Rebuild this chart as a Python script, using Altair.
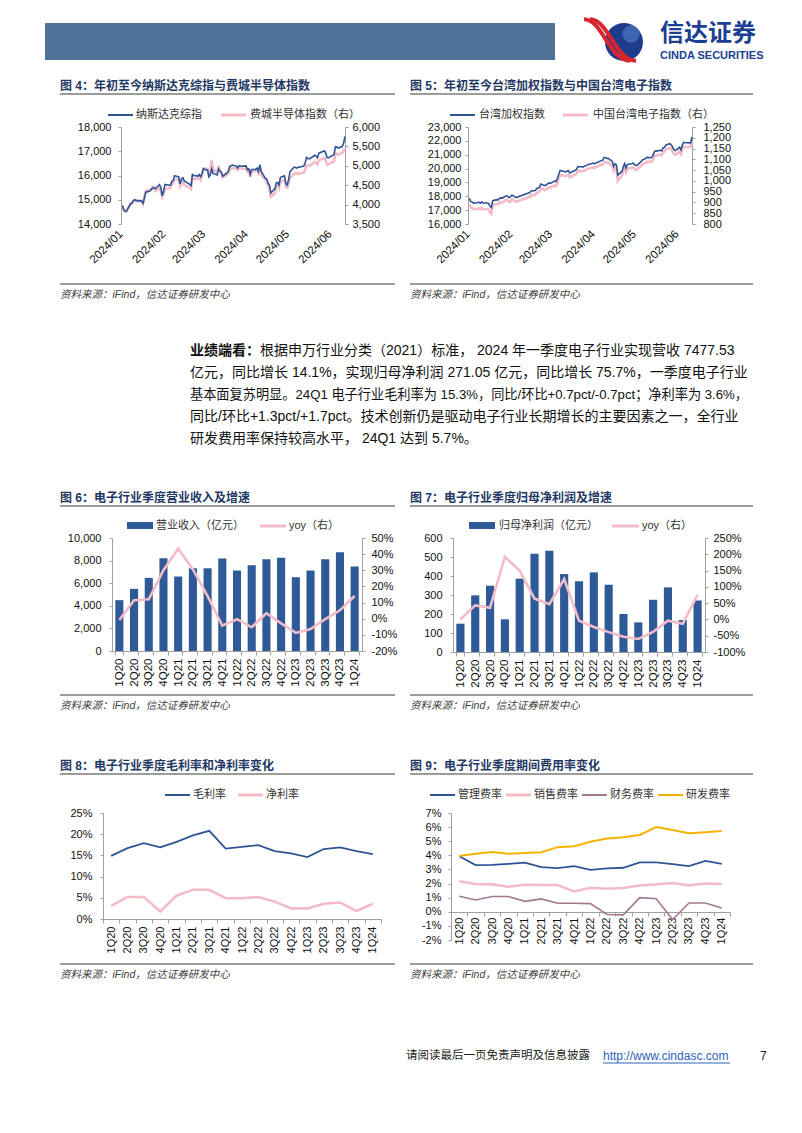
import altair as alt
import pandas as pd

CJK = "Noto Sans CJK SC"
LAT = "Liberation Sans"
MIX = "Liberation Sans, Noto Sans CJK SC"
BLUE = "#2f5496"
PINK = "#f3bcc8"
BAR = "#2e5a98"
MAUVE = "#a27890"
GOLD = "#f5b301"
TITLE_C = "#1f3864"
AX = "#a0a0a0"
TXT = "#111111"
LEG = "#333333"
RULE_C = "#3a3a3a"

# ---------------- data ----------------
nasdaq_dates = [
    "2024-01-02", "2024-01-03", "2024-01-04", "2024-01-05", "2024-01-08", "2024-01-09", "2024-01-10",
    "2024-01-11", "2024-01-12", "2024-01-16", "2024-01-17", "2024-01-18", "2024-01-19", "2024-01-22",
    "2024-01-23", "2024-01-24", "2024-01-25", "2024-01-26", "2024-01-29", "2024-01-30", "2024-01-31",
    "2024-02-01", "2024-02-02", "2024-02-05", "2024-02-06", "2024-02-07", "2024-02-08", "2024-02-09",
    "2024-02-12", "2024-02-13", "2024-02-14", "2024-02-15", "2024-02-16", "2024-02-20", "2024-02-21",
    "2024-02-22", "2024-02-23", "2024-02-26", "2024-02-27", "2024-02-28", "2024-02-29",
    "2024-03-01", "2024-03-04", "2024-03-05", "2024-03-06", "2024-03-07", "2024-03-08", "2024-03-11",
    "2024-03-12", "2024-03-13", "2024-03-14", "2024-03-15", "2024-03-18", "2024-03-19", "2024-03-20",
    "2024-03-21", "2024-03-22", "2024-03-25", "2024-03-26", "2024-03-27", "2024-03-28",
    "2024-04-01", "2024-04-02", "2024-04-03", "2024-04-04", "2024-04-05", "2024-04-08", "2024-04-09",
    "2024-04-10", "2024-04-11", "2024-04-12", "2024-04-15", "2024-04-16", "2024-04-17", "2024-04-18",
    "2024-04-19", "2024-04-22", "2024-04-23", "2024-04-24", "2024-04-25", "2024-04-26", "2024-04-29",
    "2024-04-30",
    "2024-05-01", "2024-05-02", "2024-05-03", "2024-05-06", "2024-05-07", "2024-05-08", "2024-05-09",
    "2024-05-10", "2024-05-13", "2024-05-14", "2024-05-15", "2024-05-16", "2024-05-17", "2024-05-20",
    "2024-05-21", "2024-05-22", "2024-05-23", "2024-05-24", "2024-05-28", "2024-05-29", "2024-05-30",
    "2024-05-31",
    "2024-06-03", "2024-06-04", "2024-06-05", "2024-06-06", "2024-06-07", "2024-06-10", "2024-06-11",
    "2024-06-12",
]
nasdaq_values = [
    14766, 14592, 14510, 14524, 14844, 14858, 14970, 15003, 14973, 14944, 14856, 15056, 15311, 15360,
    15426, 15482, 15511, 15455, 15628, 15510, 15164,
    15362, 15629, 15598, 15609, 15757, 15794, 15991, 15943, 15656, 15859, 15906, 15776, 15631, 15581,
    16042, 15997, 15976, 16035, 15948, 16092,
    16275, 16208, 15940, 16032, 16273, 16085, 16019, 16266, 16178, 16129, 15973, 16103, 16167, 16369,
    16402, 16429, 16384, 16316, 16400, 16379,
    16397, 16240, 16277, 16049, 16249, 16254, 16307, 16170, 16442, 16175, 15885, 15865, 15683, 15602,
    15282, 15451, 15697, 15713, 15612, 15928, 15983, 15658,
    15605, 15841, 16156, 16349, 16333, 16303, 16346, 16341, 16388, 16511, 16742, 16698, 16686, 16795,
    16833, 16802, 16736, 16921, 17020, 16921, 16737, 16735,
    16829, 16857, 17188, 17173, 17133, 17193, 17344, 17608,
]
sox_values = [
    3960, 3860, 3830, 3850, 4010, 4020, 4080, 4110, 4080, 4100, 4020, 4190, 4360, 4370,
    4380, 4450, 4420, 4350, 4430, 4360, 4200,
    4290, 4400, 4420, 4440, 4520, 4560, 4640, 4650, 4480, 4560, 4590, 4500, 4440, 4400,
    4700, 4660, 4670, 4690, 4640, 4760,
    4930, 4920, 4760, 4880, 5150, 4910, 4830, 5000, 4880, 4830, 4700, 4770, 4790, 4860,
    4950, 4940, 4930, 4890, 4930, 4930,
    4920, 4850, 4880, 4720, 4840, 4870, 4890, 4810, 4940, 4770, 4640, 4620, 4490, 4420,
    4200, 4290, 4460, 4500, 4430, 4600, 4640, 4450,
    4430, 4560, 4680, 4800, 4810, 4790, 4820, 4800, 4820, 4900, 5020, 5010, 5000, 5070,
    5100, 5090, 5040, 5140, 5200, 5130, 5030, 5040,
    5100, 5110, 5330, 5310, 5290, 5330, 5380, 5460,
]

taiex_dates = [
    "2024-01-02", "2024-01-03", "2024-01-04", "2024-01-05", "2024-01-08", "2024-01-09", "2024-01-10",
    "2024-01-11", "2024-01-12", "2024-01-15", "2024-01-16", "2024-01-17", "2024-01-18", "2024-01-19",
    "2024-01-22", "2024-01-23", "2024-01-24", "2024-01-25", "2024-01-26", "2024-01-29", "2024-01-30",
    "2024-01-31",
    "2024-02-01", "2024-02-02", "2024-02-05", "2024-02-15", "2024-02-16", "2024-02-19", "2024-02-20",
    "2024-02-21", "2024-02-22", "2024-02-23", "2024-02-26", "2024-02-27", "2024-02-29",
    "2024-03-01", "2024-03-04", "2024-03-05", "2024-03-06", "2024-03-07", "2024-03-08", "2024-03-11",
    "2024-03-12", "2024-03-13", "2024-03-14", "2024-03-15", "2024-03-18", "2024-03-19", "2024-03-20",
    "2024-03-21", "2024-03-22", "2024-03-25", "2024-03-26", "2024-03-27", "2024-03-28", "2024-03-29",
    "2024-04-01", "2024-04-02", "2024-04-03", "2024-04-08", "2024-04-09", "2024-04-10", "2024-04-11",
    "2024-04-12", "2024-04-15", "2024-04-16", "2024-04-17", "2024-04-18", "2024-04-19", "2024-04-22",
    "2024-04-23", "2024-04-24", "2024-04-25", "2024-04-26", "2024-04-29", "2024-04-30",
    "2024-05-02", "2024-05-03", "2024-05-06", "2024-05-07", "2024-05-08", "2024-05-09", "2024-05-10",
    "2024-05-13", "2024-05-14", "2024-05-15", "2024-05-16", "2024-05-17", "2024-05-20", "2024-05-21",
    "2024-05-22", "2024-05-23", "2024-05-24", "2024-05-27", "2024-05-28", "2024-05-29", "2024-05-30",
    "2024-05-31",
    "2024-06-03", "2024-06-04", "2024-06-05", "2024-06-06", "2024-06-07", "2024-06-11", "2024-06-12",
]
taiex_values = [
    17853, 17624, 17595, 17502, 17527, 17576, 17506, 17601, 17514, 17513, 17483, 17285, 17178, 17682,
    17758, 17737, 17862, 17887, 17873, 18050, 17990, 17890,
    17965, 18082, 17906, 18275, 18378, 18418, 18565, 18597, 18655, 18889, 18768, 18835, 18966,
    18935, 19101, 19052, 19249, 19581, 19860, 19789, 19763, 19812, 19863, 19682, 19830, 19874, 19950,
    20157, 20126, 20119, 20190, 20205, 20294, 20294,
    20397, 20341, 20410, 20606, 20796, 20796, 20730, 20741, 20520, 20159, 20345, 20260, 19527, 19792,
    20138, 20359, 20041, 20303, 20354, 20396,
    20231, 20222, 20522, 20627, 20664, 20705, 20809, 20784, 20838, 21061, 21258, 21259, 21319, 21268,
    21512, 21536, 21700, 21790, 21700, 21520, 21350, 21300,
    21536, 21356, 21715, 21902, 21859, 21858, 22290,
]
twelec_values = [
    891, 876, 875, 869, 870, 873, 869, 875, 869, 869, 867, 855, 848, 888,
    893, 892, 900, 901, 900, 912, 908, 902,
    906, 914, 903, 926, 933, 935, 945, 947, 951, 966, 958, 962, 971,
    969, 979, 976, 989, 1010, 1028, 1024, 1022, 1025, 1028, 1017, 1026, 1029, 1034,
    1047, 1045, 1045, 1049, 1050, 1056, 1056,
    1063, 1059, 1064, 1076, 1088, 1088, 1084, 1085, 1071, 1047, 1059, 1054, 1000, 1024,
    1046, 1060, 1040, 1057, 1060, 1063,
    1052, 1051, 1071, 1078, 1080, 1083, 1089, 1088, 1091, 1105, 1118, 1118, 1122, 1119,
    1134, 1136, 1147, 1152, 1147, 1135, 1124, 1121,
    1136, 1124, 1147, 1159, 1157, 1157, 1184,
]

quarters = ["1Q20", "2Q20", "3Q20", "4Q20", "1Q21", "2Q21", "3Q21", "4Q21", "1Q22", "2Q22",
            "3Q22", "4Q22", "1Q23", "2Q23", "3Q23", "4Q23", "1Q24"]
revenue = [4500, 5500, 6470, 8200, 6590, 7320, 7320, 8180, 7120, 7590, 8120, 8260, 6530, 7120,
           8120, 8740, 7478]
revenue_yoy = [-0.8, 11.5, 12.0, 30.0, 43.4, 30.5, 14.0, -4.3, -0.3, -5.3, 3.4, -2.9, -8.8, -6.4,
               -0.3, 5.2, 14.1]
profit = [149, 298, 349, 172, 386, 517, 533, 410, 372, 419, 354, 200, 156, 275, 340, 168, 271]
profit_yoy = [0, 43, 36, 192, 150, 64, 47, 124, -4, -23, -39, -53, -60, -38, -4, -13, 75.7]
gross_margin = [14.9, 16.7, 17.9, 16.9, 18.2, 19.7, 20.8, 16.6, 17.0, 17.4, 16.0, 15.5, 14.6,
                16.5, 16.9, 16.0, 15.3]
net_margin = [3.1, 5.2, 5.2, 1.8, 5.5, 6.9, 6.9, 4.9, 4.9, 5.2, 4.1, 2.5, 2.5, 3.6, 3.9, 1.9, 3.6]
mgmt_rate = [3.93, 3.31, 3.33, 3.40, 3.48, 3.17, 3.09, 3.24, 2.97, 3.07, 3.12, 3.50, 3.50, 3.38,
             3.24, 3.60, 3.40]
sales_rate = [2.16, 1.97, 1.94, 1.77, 1.92, 1.90, 1.90, 1.44, 1.70, 1.63, 1.68, 1.87, 1.94, 2.04,
              1.87, 2.00, 1.97]
fin_rate = [1.10, 0.84, 1.08, 1.08, 0.74, 0.91, 0.60, 0.60, 0.58, -0.19, -0.22, 1.00, 0.92, -0.55,
            0.62, 0.62, 0.27]
rd_rate = [3.96, 4.12, 4.24, 4.12, 4.17, 4.22, 4.58, 4.65, 4.96, 5.20, 5.28, 5.44, 6.00, 5.80,
           5.56, 5.64, 5.73]

para_lines = [
    "根据申万行业分类（2021）标准， 2024 年一季度电子行业实现营收 7477.53",
    "亿元，同比增长 14.1%，实现归母净利润 271.05 亿元，同比增长 75.7%，一季度电子行业",
    "基本面复苏明显。24Q1 电子行业毛利率为 15.3%，同比/环比+0.7pct/-0.7pct；净利率为 3.6%，",
    "同比/环比+1.3pct/+1.7pct。技术创新仍是驱动电子行业长期增长的主要因素之一，全行业",
    "研发费用率保持较高水平， 24Q1 达到 5.7%。",
]
SOURCE = "资料来源：iFind，信达证券研发中心"

# ---------------- helpers ----------------
ONE = pd.DataFrame({"k": [0]})


def txt(o, x, y, s, size=11, font=MIX, color=TXT, weight="normal", style="normal",
        align="left", baseline="middle"):
    return alt.Chart(ONE).mark_text(
        text=s, fontSize=size, font=font, color=color, fontWeight=weight,
        fontStyle=style, align=align, baseline=baseline
    ).encode(x=alt.value(x - o[0]), y=alt.value(y - o[1]))


def hline(o, x1, x2, y, color, w=1.0):
    return alt.Chart(ONE).mark_rule(color=color, strokeWidth=w).encode(
        x=alt.value(x1 - o[0]), x2=alt.value(x2 - o[0]), y=alt.value(y - o[1]))


def box(o, x1, x2, y1, y2, color):
    return alt.Chart(ONE).mark_rect(color=color).encode(
        x=alt.value(x1 - o[0]), x2=alt.value(x2 - o[0]),
        y=alt.value(y1 - o[1]), y2=alt.value(y2 - o[1]))


def frame(o, left, title, ty, sy):
    x1, x2 = (57, 392) if left else (407, 750)
    return [
        txt(o, x1, ty, title, size=12, color=TITLE_C, weight="bold"),
        hline(o, x1, x2, ty + 8, RULE_C, 1),
        hline(o, x1, x2, sy, RULE_C, 1),
        txt(o, x1, sy + 11, SOURCE, size=10.5, color="#404040", style="italic"),
    ]


def leg(o, x, y, s):
    return txt(o, x, y, s, size=11, color=LEG)


def spacer(w, h):
    return alt.Chart(ONE).mark_point(opacity=0).encode(
        x=alt.value(0), y=alt.value(0)).properties(width=w, height=h)


def pct_axis(vals, orient, pad, off=0):
    return alt.Axis(values=vals, labelExpr="datum.value + '%'", orient=orient, title=None,
                    tickSize=3, labelPadding=pad, offset=off)


def num_axis(vals, orient, pad, off=0):
    return alt.Axis(values=vals, format=",.0f", orient=orient, title=None, tickSize=3,
                    labelPadding=pad, offset=off)


def dt(m, d):
    return alt.DateTime(year=2024, month=m, date=d, utc=True)


def date_x(off, w):
    return alt.X("date:T",
                 scale=alt.Scale(type="utc", domain=[dt(1, 1), dt(6, 12)], range=[off, off + w]),
                 axis=alt.Axis(values=[dt(m, 1) for m in range(1, 7)], format="%Y/%m",
                               labelAngle=-45, labelAlign="right", labelBaseline="middle",
                               labelPadding=8, domain=False, ticks=False, title=None,
                               labelFontSize=11.5))


def quarter_x(off, w, pi, po, font=11, offset=0, pad=3):
    return alt.X("q:N", sort=quarters,
                 scale=alt.Scale(type="band", paddingInner=pi, paddingOuter=po,
                                 range=[off, off + w]),
                 axis=alt.Axis(labelAngle=-90, tickBand="extent", title=None, tickSize=4,
                               labelPadding=pad, labelFontSize=font, offset=offset))


# Column origins (page px): left figures start at 100, right figures at 448
LX, RX = 100, 448

# ---------------- Figure 4 ----------------
o4 = (LX, 124)
off4 = 118 - LX
df4 = pd.DataFrame({"date": nasdaq_dates, "nasdaq": nasdaq_values, "sox": sox_values})
f4_pink = alt.Chart(df4).mark_line(color=PINK, strokeWidth=2.6).encode(
    x=date_x(off4, 224),
    y=alt.Y("sox:Q", scale=alt.Scale(domain=[3500, 6000], nice=False, zero=False),
            axis=num_axis(list(range(3500, 6001, 500)), "right", 4)))
f4_blue = alt.Chart(df4).mark_line(color=BLUE, strokeWidth=1.6).encode(
    x=date_x(off4, 224),
    y=alt.Y("nasdaq:Q", scale=alt.Scale(domain=[14000, 18000], nice=False, zero=False),
            axis=num_axis(list(range(14000, 18001, 1000)), "left", 7, -off4)))
f4_decor = frame(o4, True, "图 4：年初至今纳斯达克综指与费城半导体指数", 83, 281) + [
    hline(o4, 105, 130, 112, BLUE, 2), leg(o4, 133, 112, "纳斯达克综指"),
    hline(o4, 218, 243, 112, PINK, 3), leg(o4, 247, 112, "费城半导体指数（右）"),
]
fig4 = alt.layer(f4_pink, f4_blue, *f4_decor).resolve_scale(y="independent").properties(
    width=off4 + 224, height=97)

# ---------------- Figure 5 ----------------
o5 = (RX, 124)
off5 = 465 - RX
df5 = pd.DataFrame({"date": taiex_dates, "taiex": taiex_values, "elec": twelec_values})
f5_pink = alt.Chart(df5).mark_line(color=PINK, strokeWidth=2.6).encode(
    x=date_x(off5, 224),
    y=alt.Y("elec:Q", scale=alt.Scale(domain=[800, 1250], nice=False, zero=False),
            axis=num_axis(list(range(800, 1251, 50)), "right", 8)))
f5_blue = alt.Chart(df5).mark_line(color=BLUE, strokeWidth=1.6).encode(
    x=date_x(off5, 224),
    y=alt.Y("taiex:Q", scale=alt.Scale(domain=[16000, 23000], nice=False, zero=False),
            axis=num_axis(list(range(16000, 23001, 1000)), "left", 4, -off5)))
f5_decor = frame(o5, False, "图 5：年初至今台湾加权指数与中国台湾电子指数", 83, 281) + [
    hline(o5, 447, 472, 112, BLUE, 2), leg(o5, 476, 112, "台湾加权指数"),
    hline(o5, 560, 585, 112, PINK, 3), leg(o5, 590, 112, "中国台湾电子指数（右）"),
]
fig5 = alt.layer(f5_pink, f5_blue, *f5_decor).resolve_scale(y="independent").properties(
    width=off5 + 224, height=97)

# ---------------- Figure 6 ----------------
o6 = (LX, 535)
off6 = 109 - LX
df6 = pd.DataFrame({"q": quarters, "rev": revenue, "yoy": revenue_yoy})
f6_bar = alt.Chart(df6).mark_bar(color=BAR).encode(
    x=quarter_x(off6, 250, 0.45, 0.225, 11.5),
    y=alt.Y("rev:Q", scale=alt.Scale(domain=[0, 10000], nice=False),
            axis=num_axis(list(range(0, 10001, 2000)), "left", 8, -off6)))
f6_line = alt.Chart(df6).mark_line(color=PINK, strokeWidth=2.6).encode(
    x=quarter_x(off6, 250, 0.45, 0.225, 11.5),
    y=alt.Y("yoy:Q", scale=alt.Scale(domain=[-20, 50], nice=False, zero=False),
            axis=pct_axis(list(range(-20, 51, 10)), "right", 6)))
f6_decor = frame(o6, True, "图 6：电子行业季度营业收入及增速", 495, 692) + [
    box(o6, 124, 150, 519, 526, BAR), leg(o6, 153, 523, "营业收入（亿元）"),
    hline(o6, 257, 283, 523, PINK, 3), leg(o6, 286, 523, "yoy（右）"),
]
fig6 = alt.layer(f6_bar, f6_line, *f6_decor).resolve_scale(y="independent").properties(
    width=off6 + 250, height=113)

# ---------------- Figure 7 ----------------
o7 = (RX, 535)
off7 = 450 - RX
df7 = pd.DataFrame({"q": quarters, "np": profit, "yoy": profit_yoy})
f7_bar = alt.Chart(df7).mark_bar(color=BAR).encode(
    x=quarter_x(off7, 252, 0.45, 0.225, 11.5),
    y=alt.Y("np:Q", scale=alt.Scale(domain=[0, 600], nice=False),
            axis=num_axis(list(range(0, 601, 100)), "left", 8, -off7)))
f7_line = alt.Chart(df7).mark_line(color=PINK, strokeWidth=2.6).encode(
    x=quarter_x(off7, 252, 0.45, 0.225, 11.5),
    y=alt.Y("yoy:Q", scale=alt.Scale(domain=[-100, 250], nice=False, zero=False),
            axis=pct_axis(list(range(-100, 251, 50)), "right", 5)))
f7_decor = frame(o7, False, "图 7：电子行业季度归母净利润及增速", 495, 692) + [
    box(o7, 466, 492, 519, 526, BAR), leg(o7, 496, 523, "归母净利润（亿元）"),
    hline(o7, 609, 636, 523, PINK, 3), leg(o7, 639, 523, "yoy（右）"),
]
fig7 = alt.layer(f7_bar, f7_line, *f7_decor).resolve_scale(y="independent").properties(
    width=off7 + 252, height=114)

# ---------------- Figure 8 ----------------
o8 = (LX, 810)
df8 = pd.DataFrame({"q": quarters, "gm": gross_margin, "nm": net_margin})
y8 = dict(scale=alt.Scale(domain=[0, 25], nice=False),
          axis=pct_axis(list(range(0, 26, 5)), "left", 8))
x8 = quarter_x(0, 278, 0, 0, 11)
f8_nm = alt.Chart(df8).mark_line(color=PINK, strokeWidth=2.6).encode(x=x8, y=alt.Y("nm:Q", **y8))
f8_gm = alt.Chart(df8).mark_line(color=BLUE, strokeWidth=1.8).encode(x=x8, y=alt.Y("gm:Q", **y8))
f8_decor = frame(o8, True, "图 8：电子行业季度毛利率和净利率变化", 763, 961) + [
    hline(o8, 162, 187, 792, BLUE, 2), leg(o8, 190, 792, "毛利率"),
    hline(o8, 235, 260, 792, PINK, 3), leg(o8, 263, 792, "净利率"),
]
fig8 = alt.layer(f8_nm, f8_gm, *f8_decor).properties(width=278, height=106)

# ---------------- Figure 9 ----------------
o9 = (RX, 810)
df9 = pd.DataFrame({"q": quarters, "mg": mgmt_rate, "sa": sales_rate, "fi": fin_rate,
                    "rd": rd_rate})
y9 = dict(scale=alt.Scale(domain=[-2, 7], nice=False, zero=False),
          axis=pct_axis(list(range(-2, 8, 1)), "left", 7))
x9 = quarter_x(0, 279, 0, 0, 11, offset=-28, pad=1)
f9_layers = [
    alt.Chart(df9).mark_line(color=PINK, strokeWidth=2.6).encode(x=x9, y=alt.Y("sa:Q", **y9)),
    alt.Chart(df9).mark_line(color=MAUVE, strokeWidth=1.6).encode(x=x9, y=alt.Y("fi:Q", **y9)),
    alt.Chart(df9).mark_line(color=BLUE, strokeWidth=1.8).encode(x=x9, y=alt.Y("mg:Q", **y9)),
    alt.Chart(df9).mark_line(color=GOLD, strokeWidth=2.0).encode(x=x9, y=alt.Y("rd:Q", **y9)),
]
f9_decor = frame(o9, False, "图 9：电子行业季度期间费用率变化", 763, 961) + [
    hline(o9, 427, 452, 792, BLUE, 2), leg(o9, 455, 792, "管理费率"),
    hline(o9, 503, 528, 792, PINK, 3), leg(o9, 531, 792, "销售费率"),
    hline(o9, 579, 604, 792, MAUVE, 2), leg(o9, 607, 792, "财务费率"),
    hline(o9, 655, 680, 792, GOLD, 2), leg(o9, 683, 792, "研发费率"),
]
fig9 = alt.layer(*f9_layers, *f9_decor).properties(width=279, height=127)

# ---------------- header (drawn from the first grid cell) ----------------
C0 = LX - 8  # width of the first column
oh = (8, 8)
header = alt.layer(
    box(oh, 42, 552, 20, 57, "#4e7298"),
    alt.Chart(ONE).mark_point(shape="circle", filled=True, color="#1d3c8c", size=1444,
                              opacity=1).encode(x=alt.value(621 - 8), y=alt.value(39 - 8)),
    alt.Chart(ONE).mark_point(shape="circle", filled=True, color="#5b86cf", size=300,
                              opacity=0.55).encode(x=alt.value(628 - 8), y=alt.value(31 - 8)),
    alt.Chart(ONE).mark_point(shape="M -1 -0.9 C -0.2 -0.9 0.1 0.9 1 0.9", filled=False,
                              color="#d7262e", strokeWidth=4, size=2116, opacity=1).encode(
        x=alt.value(604 - 8), y=alt.value(37 - 8)),
    alt.Chart(ONE).mark_point(shape="M -1 -0.9 C -0.2 -0.9 0.1 0.9 1 0.9", filled=False,
                              color="#d7262e", strokeWidth=4, size=2116, opacity=1).encode(
        x=alt.value(610 - 8), y=alt.value(37 - 8)),
    txt(oh, 657, 31, "信达证券", size=24, font=CJK, color="#1c3f94", weight="bold"),
    txt(oh, 657, 53, "CINDA SECURITIES", size=11, font=LAT, color="#1c3f94", weight="bold"),
).properties(width=C0, height=116)

# ---------------- paragraph ----------------
op = (8, 221)
ys = [348, 370, 392, 414, 436]
sizes = [14, 14, 13.2, 14, 14]
para_layers = [txt(op, 187, ys[0], "业绩端看：", size=14, font=CJK, weight="bold")]
para_layers.append(txt(op, 257, ys[0], para_lines[0], size=sizes[0]))
for i in range(1, 5):
    para_layers.append(txt(op, 187, ys[i], para_lines[i], size=sizes[i]))
paragraph = alt.layer(*para_layers).properties(width=C0, height=314)

# ---------------- footer ----------------
of = (8, 937)
footer = alt.layer(
    txt(of, 403, 1053, "请阅读最后一页免责声明及信息披露", size=11.5, font=CJK, color="#222222"),
    txt(of, 600, 1053, "http://www.cindasc.com", size=12, font=LAT, color="#2e64b8"),
    hline(of, 600, 727, 1060, "#2e64b8", 1),
    txt(of, 757, 1053, "7", size=12, font=LAT, color="#222222"),
).properties(width=C0, height=180)

# ---------------- page grid (4 aligned columns) ----------------
GAP = RX - (LX + 278)
items = [
    header, spacer(1, 1), spacer(1, 1), spacer(1, 1),
    spacer(C0, 97), fig4, spacer(GAP, 97), fig5,
    paragraph, spacer(1, 1), spacer(1, 1), spacer(1, 1),
    spacer(C0, 114), fig6, spacer(GAP, 114), fig7,
    spacer(C0, 161), spacer(1, 1), spacer(1, 1), spacer(1, 1),
    spacer(C0, 127), fig8, spacer(GAP, 127), fig9,
    footer, spacer(1, 1), spacer(1, 1), spacer(1, 1),
]

chart = alt.concat(
    *items, columns=4, spacing=0, bounds="flush", align="each",
).properties(padding=0, background="white").configure_view(stroke=None).configure_axis(
    labelFont=LAT, labelFontSize=11, labelColor="#111111", domainColor=AX, tickColor=AX,
    grid=False, labelFlush=False, labelOverlap=False, labelBound=False,
)

chart.save("out.html", embed_options={"renderer": "svg", "actions": False})
